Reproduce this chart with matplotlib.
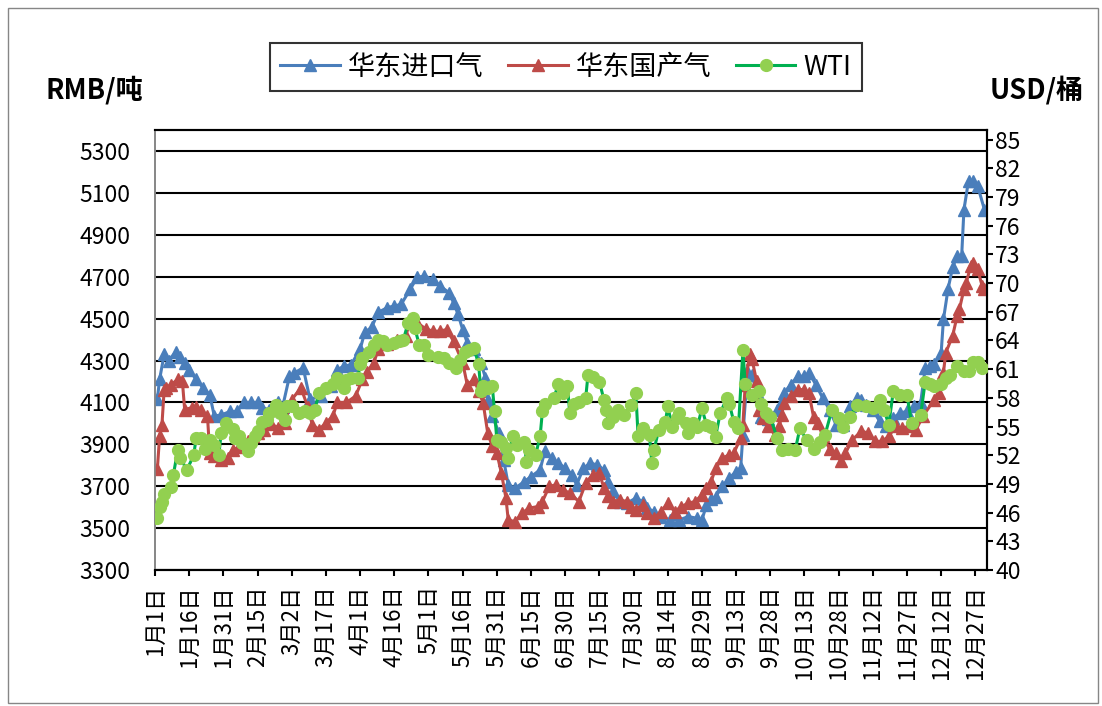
import matplotlib
matplotlib.use("Agg")
import matplotlib.pyplot as plt
from matplotlib.patches import Rectangle

plt.rcParams["font.family"] = ["Noto Sans CJK SC", "DejaVu Sans"]

COLOR_BLUE = "#4A7EBB"
COLOR_RED = "#BE4B48"
COLOR_GREEN_LINE = "#00B050"
COLOR_GREEN_MARK = "#92D050"
COLOR_GREY = "#868686"

# days counted from 1 Jan (2019)
import_days = [1, 2, 4, 6, 9, 11, 13, 15, 18, 21, 24, 26, 29, 33, 36, 39, 42, 45, 47, 50,
               54, 56, 59, 61, 65, 68, 73, 77, 80, 83, 86, 90, 92, 95, 98, 102, 105, 108, 112, 115,
               118, 122, 125, 129, 131, 133, 135, 137, 140, 143, 145, 146, 148, 151, 153, 155, 158, 162, 165, 169,
               171, 174, 177, 180, 183, 185, 188, 191, 194, 197, 199, 201, 204, 207, 211, 214, 216, 219, 222, 226,
               230, 234, 238, 240, 242, 244, 246, 249, 252, 255, 257, 258, 260, 262, 264, 266, 269, 273, 275, 276,
               279, 282, 285, 287, 290, 293, 296, 299, 302, 305, 308, 310, 312, 315, 318, 321, 324, 327, 330, 333,
               336, 338, 340, 342, 345, 346, 348, 350, 352, 354, 355, 357, 359, 361, 364]
import_price = [4115, 4210, 4330, 4300, 4340, 4315, 4290, 4255, 4210, 4170, 4137, 4035, 4040, 4057, 4057, 4100, 4100, 4100, 4075, 4065,
                4100, 4080, 4225, 4240, 4265, 4115, 4130, 4177, 4257, 4273, 4280, 4353, 4434, 4458, 4530, 4553, 4560, 4568, 4640, 4697,
                4703, 4688, 4656, 4624, 4576, 4520, 4448, 4385, 4353, 4290, 4217, 4113, 4034, 3954, 3826, 3707, 3690, 3722, 3746, 3778,
                3866, 3834, 3810, 3786, 3755, 3707, 3786, 3810, 3802, 3778, 3722, 3675, 3627, 3619, 3643, 3627, 3595, 3579, 3555, 3539,
                3539, 3555, 3547, 3539, 3610, 3640, 3650, 3699, 3739, 3770, 3786, 3946, 4250, 4230, 4150, 4030, 4020, 4065, 4105, 4145,
                4185, 4225, 4225, 4241, 4185, 4121, 4065, 3990, 3994, 4081, 4121, 4113, 4089, 4065, 4010, 3986, 4026, 4050, 4057, 4081,
                4097, 4265, 4273, 4281, 4337, 4496, 4640, 4744, 4799, 4799, 5020, 5158, 5158, 5134, 5020]

domestic_days = [1, 2, 3, 4, 5, 7, 10, 12, 13, 16, 18, 20, 23, 24, 26, 29, 32, 34, 37, 41,
                 43, 45, 48, 51, 54, 57, 60, 64, 67, 69, 72, 75, 78, 80, 84, 88, 91, 93, 96, 98,
                 102, 106, 110, 112, 115, 119, 122, 125, 128, 131, 135, 137, 140, 142, 144, 146, 148, 150, 152, 154,
                 155, 158, 161, 164, 168, 170, 173, 176, 179, 182, 186, 189, 192, 195, 197, 199, 201, 204, 207, 209,
                 211, 214, 216, 219, 222, 225, 228, 231, 234, 237, 240, 242, 244, 246, 249, 252, 254, 257, 258, 259,
                 261, 262, 264, 265, 267, 269, 272, 274, 275, 276, 279, 282, 285, 287, 289, 291, 293, 296, 299, 301,
                 303, 306, 310, 313, 316, 319, 322, 325, 328, 331, 334, 337, 342, 344, 346, 347, 350, 352, 353, 355,
                 356, 358, 359, 361, 363, 364]
domestic_price = [3780, 3940, 3990, 4160, 4170, 4185, 4210, 4200, 4065, 4075, 4080, 4065, 4035, 3860, 3843, 3826, 3835, 3875, 3885, 3915,
                  3938, 3955, 3970, 3995, 3980, 4003, 4113, 4170, 4080, 3994, 3970, 4003, 4034, 4100, 4100, 4130, 4210, 4243, 4290, 4353,
                  4377, 4400, 4417, 4488, 4480, 4450, 4440, 4440, 4448, 4392, 4290, 4185, 4210, 4153, 4097, 3954, 3890, 3858, 3763, 3643,
                  3539, 3531, 3571, 3595, 3603, 3627, 3699, 3707, 3683, 3667, 3627, 3715, 3755, 3763, 3691, 3651, 3627, 3635, 3627, 3603,
                  3587, 3611, 3571, 3547, 3579, 3619, 3579, 3603, 3619, 3627, 3659, 3691, 3720, 3786, 3834, 3850, 3858, 3930, 3994, 4185,
                  4329, 4305, 4201, 4065, 4026, 3986, 3946, 3986, 4042, 4097, 4129, 4161, 4161, 4145, 4030, 4000, 3940, 3880, 3858, 3818,
                  3858, 3922, 3962, 3954, 3914, 3914, 3938, 3986, 3978, 3986, 3970, 4034, 4113, 4145, 4241, 4337, 4416, 4512, 4544, 4640,
                  4672, 4751, 4767, 4735, 4656, 4640]

wti_days = [1, 2, 3, 4, 7, 8, 10, 11, 14, 17, 18, 20, 22, 24, 26, 28, 29, 31, 34, 35,
            37, 38, 41, 42, 44, 45, 47, 49, 50, 53, 55, 57, 58, 60, 63, 66, 68, 70, 72, 75,
            78, 80, 83, 84, 86, 89, 90, 91, 94, 96, 98, 100, 102, 105, 107, 109, 111, 113, 114, 116,
            118, 120, 124, 127, 129, 132, 134, 136, 138, 140, 142, 143, 144, 146, 148, 149, 150, 152, 154, 155,
            157, 159, 162, 163, 164, 167, 169, 170, 171, 175, 177, 179, 181, 182, 184, 186, 189, 190, 192, 195,
            197, 198, 199, 201, 203, 206, 209, 211, 212, 214, 217, 218, 219, 221, 224, 225, 227, 229, 230, 233,
            234, 236, 238, 240, 242, 244, 246, 248, 251, 252, 254, 256, 258, 259, 262, 265, 266, 268, 270, 273,
            275, 278, 281, 283, 286, 289, 292, 294, 297, 300, 302, 305, 308, 312, 315, 318, 320, 322, 324, 327,
            330, 332, 336, 338, 340, 342, 345, 347, 349, 352, 355, 357, 359, 361, 363]
wti_price = [45.4, 46.6, 47.1, 48.0, 48.7, 49.9, 52.6, 51.7, 50.5, 52.0, 53.8, 53.8, 52.7, 53.6, 53.1, 52.0, 54.3, 55.4, 54.7, 53.8,
             54.0, 53.3, 52.4, 53.3, 54.0, 54.5, 55.5, 55.7, 56.4, 57.3, 56.4, 55.7, 57.1, 57.1, 56.4, 56.6, 56.4, 56.7, 58.5, 59.0,
             59.5, 60.1, 59.0, 59.9, 60.1, 60.1, 61.5, 62.2, 62.8, 63.5, 64.1, 63.9, 63.5, 63.7, 63.9, 64.1, 65.8, 66.3, 65.3, 63.5,
             63.5, 62.5, 62.3, 62.2, 61.6, 61.1, 62.0, 62.8, 63.0, 63.2, 61.5, 58.7, 59.2, 59.0, 59.2, 56.6, 53.6, 53.4, 52.8, 51.7,
             54.0, 53.1, 53.4, 51.3, 52.6, 52.0, 54.0, 56.6, 57.4, 58.0, 59.4, 58.5, 59.2, 56.4, 57.4, 57.6, 58.0, 60.4, 60.2, 59.7,
             57.8, 56.7, 55.4, 56.0, 56.7, 56.2, 57.3, 58.5, 54.0, 54.8, 54.1, 51.2, 52.6, 54.6, 55.5, 57.1, 55.0, 55.9, 56.4, 55.4,
             54.3, 55.4, 55.0, 56.9, 55.2, 55.0, 53.9, 56.4, 58.0, 57.4, 55.5, 54.8, 63.0, 59.4, 58.3, 58.7, 57.4, 56.4, 56.0, 53.8,
             52.6, 52.7, 52.6, 54.8, 53.6, 52.7, 53.4, 54.1, 56.7, 55.9, 55.0, 56.0, 57.3, 57.1, 56.9, 57.8, 56.7, 55.2, 58.7, 58.3,
             58.3, 55.4, 56.2, 59.7, 59.4, 59.2, 59.4, 60.1, 60.4, 61.3, 60.8, 60.8, 61.8, 61.8, 61.1]

tick_days = [0, 15, 30, 45, 60, 75, 90, 105, 120, 135, 150, 165, 180, 195, 210, 225, 240, 255,
             270, 285, 300, 315, 330, 345, 360]
tick_labels = ["1月1日", "1月16日", "1月31日", "2月15日", "3月2日", "3月17日", "4月1日", "4月16日",
               "5月1日", "5月16日", "5月31日", "6月15日", "6月30日", "7月15日", "7月30日", "8月14日",
               "8月29日", "9月13日", "9月28日", "10月13日", "10月28日", "11月12日", "11月27日",
               "12月12日", "12月27日"]

series_names = ["华东进口气", "华东国产气", "WTI"]

fig = plt.figure(figsize=(11.02, 7.06), dpi=100)
ax = fig.add_axes([0.1407, 0.1926, 0.7547, 0.6232])
ax2 = ax.twinx()

l1, = ax.plot(import_days, import_price, color=COLOR_BLUE, lw=2.2, marker="^", ms=9,
              mfc=COLOR_BLUE, mec=COLOR_BLUE, zorder=3)
l2, = ax.plot(domestic_days, domestic_price, color=COLOR_RED, lw=2.2, marker="^", ms=9,
              mfc=COLOR_RED, mec=COLOR_RED, zorder=4)
l3, = ax2.plot(wti_days, wti_price, color=COLOR_GREEN_LINE, lw=2.2, marker="o", ms=8.5,
               mfc=COLOR_GREEN_MARK, mec=COLOR_GREEN_MARK, zorder=3)

ax.set_xlim(0, 365)
ax.set_ylim(3300, 5400)
ax2.set_ylim(40, 86)

ax.set_yticks(range(3300, 5301, 200))
ax2.set_yticks(range(40, 86, 3))
ax.set_xticks(tick_days)
ax.set_xticklabels(tick_labels, rotation=90, fontsize=16)

ax.set_axisbelow(True)
ax.grid(axis="y", color="black", lw=1.5)
ax.tick_params(axis="y", length=0, pad=18, labelsize=16.5)
ax.tick_params(axis="x", direction="out", length=4, width=1.5, pad=7)
ax2.tick_params(axis="y", direction="out", length=4, width=1.5, pad=2, labelsize=16.5)

for a in (ax, ax2):
    a.spines["left"].set_color(COLOR_GREY)
    a.spines["left"].set_linewidth(1.2)
    for side in ("top", "right", "bottom"):
        a.spines[side].set_color("black")
        a.spines[side].set_linewidth(1.5)

fig.text(0.086, 0.872, "RMB/吨", ha="center", va="center", fontsize=19.5, fontweight="bold")
fig.text(0.941, 0.872, "USD/桶", ha="center", va="center", fontsize=19.5, fontweight="bold")

leg = fig.legend([l1, l2, l3], series_names, loc="center", bbox_to_anchor=(0.5136, 0.905),
                 ncol=3, fontsize=19.5, frameon=True, fancybox=False, edgecolor="black",
                 handlelength=2.2, columnspacing=0.9, borderpad=0.4, handletextpad=0.3)
leg.get_frame().set_linewidth(1.5)

fig.patches.append(Rectangle((0.0073, 0.004), 0.989, 0.984, transform=fig.transFigure,
                             fill=False, ec=COLOR_GREY, lw=1))

fig.savefig("out.png", dpi=100)
